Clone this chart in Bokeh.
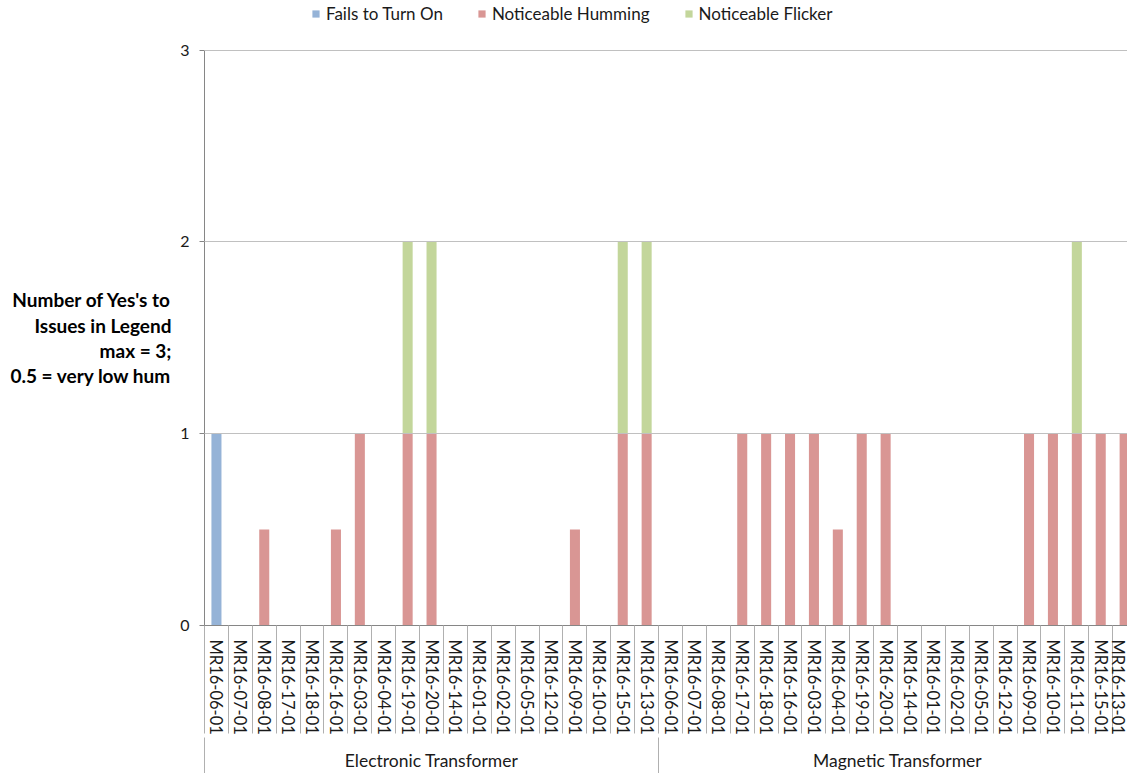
import math
from bokeh.plotting import figure
from bokeh.models import (Range1d, LinearAxis, FixedTicker, Legend, LegendItem,
                          ColumnDataSource)
from bokeh.embed import file_html
from bokeh.resources import INLINE

# ---------------- data ----------------
groups = ["Electronic Transformer", "Magnetic Transformer"]
electronic_samples = ["MR16-06-01", "MR16-07-01", "MR16-08-01", "MR16-17-01", "MR16-18-01",
                      "MR16-16-01", "MR16-03-01", "MR16-04-01", "MR16-19-01", "MR16-20-01",
                      "MR16-14-01", "MR16-01-01", "MR16-02-01", "MR16-05-01", "MR16-12-01",
                      "MR16-09-01", "MR16-10-01", "MR16-15-01", "MR16-13-01"]
magnetic_samples = ["MR16-06-01", "MR16-07-01", "MR16-08-01", "MR16-17-01", "MR16-18-01",
                    "MR16-16-01", "MR16-03-01", "MR16-04-01", "MR16-19-01", "MR16-20-01",
                    "MR16-14-01", "MR16-01-01", "MR16-02-01", "MR16-05-01", "MR16-12-01",
                    "MR16-09-01", "MR16-10-01", "MR16-11-01", "MR16-15-01", "MR16-13-01"]

electronic_fails   = [1, 0, 0,   0, 0, 0,   0, 0, 0, 0, 0, 0, 0, 0, 0, 0,   0, 0, 0]
electronic_hum     = [0, 0, 0.5, 0, 0, 0.5, 1, 0, 1, 1, 0, 0, 0, 0, 0, 0.5, 0, 1, 1]
electronic_flicker = [0, 0, 0,   0, 0, 0,   0, 0, 1, 1, 0, 0, 0, 0, 0, 0,   0, 1, 1]

magnetic_fails   = [0, 0, 0, 0, 0, 0, 0, 0,   0, 0, 0, 0, 0, 0, 0, 0, 0, 0, 0, 0]
magnetic_hum     = [0, 0, 0, 1, 1, 1, 1, 0.5, 1, 1, 0, 0, 0, 0, 0, 1, 1, 1, 1, 1]
magnetic_flicker = [0, 0, 0, 0, 0, 0, 0, 0,   0, 0, 0, 0, 0, 0, 0, 0, 0, 1, 0, 0]

series_names = ["Fails to Turn On", "Noticeable Humming", "Noticeable Flicker"]
series_colors = ["#95B3D7", "#D99694", "#C3D69B"]
y_ticks = [0, 1, 2, 3]
y_max = 3
y_label = "Number of Yes's to\nIssues in Legend\nmax = 3;\n0.5 = very low hum"

# ---------------- build ----------------
FONT = "Lato"
samples = electronic_samples + magnetic_samples
n = len(samples)
centers = [i + 0.5 for i in range(n)]
bounds = [float(i) for i in range(n)]

source = ColumnDataSource(dict(
    x=centers,
    fails=electronic_fails + magnetic_fails,
    hum=electronic_hum + magnetic_hum,
    flicker=electronic_flicker + magnetic_flicker,
))

# the frame extends to the top of the canvas so that the legend sits inside it;
# the value axis itself is bounded to 0..3
p = figure(width=1127, height=773,
           x_range=Range1d(0, 38.62), y_range=Range1d(0, y_max * 629 / 579),
           output_backend="svg", toolbar_location=None,
           x_axis_location=None, y_axis_location="left",
           min_border_left=204, min_border_right=0,
           min_border_top=0, min_border_bottom=144,
           outline_line_color=None, background_fill_color="white",
           border_fill_color="white")

renderers = p.vbar_stack(["fails", "hum", "flicker"], x="x", width=0.42,
                         source=source, fill_color=series_colors, line_color=None)

# y axis
yax = p.yaxis[0]
yax.ticker = FixedTicker(ticks=y_ticks)
yax.bounds = (0, y_max)
yax.major_tick_out = 5
yax.major_tick_in = 0
yax.minor_tick_out = 0
yax.minor_tick_in = 0
yax.axis_line_color = "#868686"
yax.major_tick_line_color = "#868686"
yax.major_label_standoff = 10
yax.major_label_text_font = FONT
yax.major_label_text_font_size = "16px"
yax.major_label_text_color = "#1a1a1a"

# y axis title, drawn as the single label of an extra left axis
ytitle_axis = LinearAxis(
    ticker=FixedTicker(ticks=[1.5], minor_ticks=[]),
    major_label_overrides={1.5: y_label},
    axis_line_color=None,
    major_tick_out=0, major_tick_in=0, minor_tick_out=0, minor_tick_in=0,
    major_label_standoff=6,
    major_label_orientation="horizontal",
    major_label_text_font=FONT,
    major_label_text_font_style="bold",
    major_label_text_font_size="19px",
    major_label_text_line_height=1.10,
    major_label_text_color="#000000",
)
p.add_layout(ytitle_axis, "left")

p.ygrid.ticker = FixedTicker(ticks=y_ticks)
p.ygrid.grid_line_color = "#c0c0c0"
p.ygrid.level = "overlay"
p.xgrid.visible = False

# category axis (sample labels + separators)
ax1 = LinearAxis(
    ticker=FixedTicker(ticks=centers, minor_ticks=bounds),
    major_label_overrides={c: s for c, s in zip(centers, samples)},
    major_label_orientation="vertical",
    major_tick_out=0, major_tick_in=0,
    minor_tick_out=108, minor_tick_in=0,
    minor_tick_line_color="#b0b0b0",
    axis_line_color="#868686",
    major_label_standoff=14 - 108,
    major_label_text_font=FONT,
    major_label_text_font_size="16.5px",
    major_label_text_color="#1a1a1a",
)
p.add_layout(ax1, "below")

# group axis
group_centers = [len(electronic_samples) / 2, len(electronic_samples) + len(magnetic_samples) / 2]
group_bounds = [0.0, float(len(electronic_samples))]
ax2 = LinearAxis(
    ticker=FixedTicker(ticks=group_centers, minor_ticks=group_bounds),
    major_label_overrides={c: g for c, g in zip(group_centers, groups)},
    axis_line_color=None,
    major_tick_out=0, major_tick_in=0,
    minor_tick_out=36, minor_tick_in=0,
    minor_tick_line_color="#b0b0b0",
    major_label_standoff=12 - 36,
    major_label_text_font=FONT,
    major_label_text_font_size="17.5px",
    major_label_text_color="#1a1a1a",
)
p.add_layout(ax2, "below")

# legend
legend = Legend(items=[LegendItem(label=nm, renderers=[r]) for nm, r in zip(series_names, renderers)],
                orientation="horizontal", location=(107, 601),
                border_line_color=None, background_fill_alpha=0,
                padding=0, margin=0, spacing=34,
                glyph_width=9, glyph_height=9, label_standoff=6,
                label_text_font=FONT, label_text_font_size="17px",
                label_text_color="#1a1a1a")
p.add_layout(legend, "center")

open("out.html", "w").write(file_html(p, INLINE))
